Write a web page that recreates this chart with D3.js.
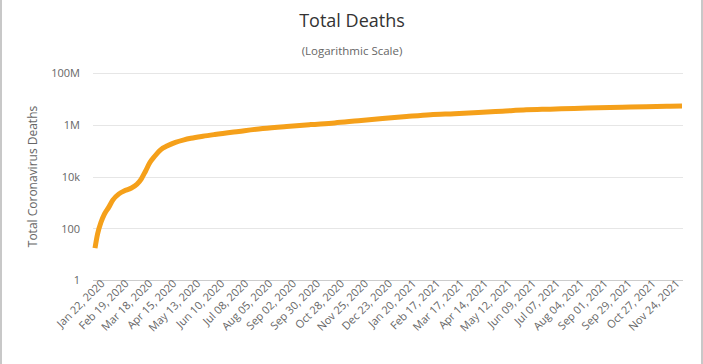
<!DOCTYPE html>
<html><head><meta charset="utf-8">
<script src="https://cdn.jsdelivr.net/npm/d3@7"></script>
<style>
html,body{margin:0;padding:0;background:#fff;}
text{font-family:"Open Sans",sans-serif;}
</style></head><body>
<svg id="c" width="703" height="364"></svg>
<script>
const dates = ["2020-01-22","2020-01-25","2020-01-29","2020-02-02","2020-02-07","2020-02-12","2020-02-19","2020-02-26","2020-03-04","2020-03-11","2020-03-16","2020-03-21","2020-03-26","2020-04-01","2020-04-08","2020-04-15","2020-04-25","2020-05-05","2020-05-13","2020-05-27","2020-06-10","2020-07-08","2020-08-05","2020-09-02","2020-09-30","2020-10-28","2020-11-25","2020-12-23","2021-01-20","2021-02-17","2021-03-17","2021-04-14","2021-05-12","2021-06-09","2021-07-07","2021-08-04","2021-09-01","2021-09-29","2021-10-27","2021-11-24","2021-12-08"];
const deaths = [17,60,170,350,640,1250,2130,2850,3500,5000,8000,16000,34000,62000,110000,150000,210000,262000,300000,360000,420000,550000,710000,860000,1015000,1180000,1440000,1740000,2080000,2450000,2690000,2990000,3350000,3770000,4010000,4270000,4560000,4790000,4990000,5180000,5280000];
const xTickLabels = ["Jan 22, 2020","Feb 19, 2020","Mar 18, 2020","Apr 15, 2020","May 13, 2020","Jun 10, 2020","Jul 08, 2020","Aug 05, 2020","Sep 02, 2020","Sep 30, 2020","Oct 28, 2020","Nov 25, 2020","Dec 23, 2020","Jan 20, 2021","Feb 17, 2021","Mar 17, 2021","Apr 14, 2021","May 12, 2021","Jun 09, 2021","Jul 07, 2021","Aug 04, 2021","Sep 01, 2021","Sep 29, 2021","Oct 27, 2021","Nov 24, 2021"];
const yTickValues = [1,100,10000,1000000,100000000];
const yTickLabels = ["1","100","10k","1M","100M"];

const svg = d3.select("#c");
const W = 703, H = 364;
const parse = d3.utcParse("%Y-%m-%d");
const parseTick = d3.utcParse("%b %d, %Y");
const data = dates.map((d,i)=>({date:parse(d), v:deaths[i]}));

const plotL = 93, plotR = 683, plotT = 73, plotB = 280;
const x = d3.scaleUtc().domain([parse("2020-01-22"), parse("2021-12-08")]).range([95, 682]);
const y = d3.scaleLog().domain([1, 1e8]).range([plotB, plotT]);

// borders
svg.append("line").attr("x1",1).attr("x2",1).attr("y1",0).attr("y2",H).attr("stroke","#c8c8c8").attr("stroke-width",2);
svg.append("line").attr("x1",702).attr("x2",702).attr("y1",0).attr("y2",H).attr("stroke","#c8c8c8").attr("stroke-width",2);

// gridlines
const yAxis = d3.axisLeft(y).tickValues(yTickValues).tickFormat((d,i)=>yTickLabels[i]).tickSize(-(plotR-plotL)).tickPadding(13);
const gy = svg.append("g").attr("transform",`translate(${plotL},0)`).call(yAxis);
gy.select(".domain").remove();
gy.selectAll(".tick line").attr("stroke","#e6e6e6").attr("shape-rendering","crispEdges");
gy.selectAll(".tick text").attr("fill","#666").attr("font-size","11px").attr("dy","0.36em");

// x axis line
svg.append("line").attr("x1",plotL).attr("x2",plotR).attr("y1",plotB+0.5).attr("y2",plotB+0.5).attr("stroke","#ccc");

// x ticks labels
const xAxis = d3.axisBottom(x).tickValues(xTickLabels.map(parseTick)).tickFormat((d,i)=>xTickLabels[i]).tickSize(0);
const gx = svg.append("g").attr("transform",`translate(0,${plotB})`).call(xAxis);
gx.select(".domain").remove();
gx.selectAll(".tick text")
  .attr("fill","#666").attr("font-size","11px")
  .attr("text-anchor","end")
  .attr("x",4).attr("y",10).attr("dy","0")
  .attr("transform","rotate(-45)");

// line
const line = d3.line().x(d=>x(d.date)).y(d=>y(d.v)).curve(d3.curveMonotoneX);
svg.append("path").datum(data).attr("d",line).attr("fill","none")
  .attr("stroke","#f5a01a").attr("stroke-width",5).attr("stroke-linecap","butt").attr("stroke-linejoin","round");

// titles
svg.append("text").attr("x",352).attr("y",27).attr("text-anchor","middle").attr("font-size","18px").attr("fill","#333").text("Total Deaths");
svg.append("text").attr("x",352).attr("y",55).attr("text-anchor","middle").attr("font-size","11.5px").attr("fill","#666").text("(Logarithmic Scale)");
svg.append("text").attr("transform",`translate(37,${(plotT+plotB)/2}) rotate(-90)`).attr("text-anchor","middle").attr("font-size","12px").attr("fill","#666").text("Total Coronavirus Deaths");
</script>
</body></html>
